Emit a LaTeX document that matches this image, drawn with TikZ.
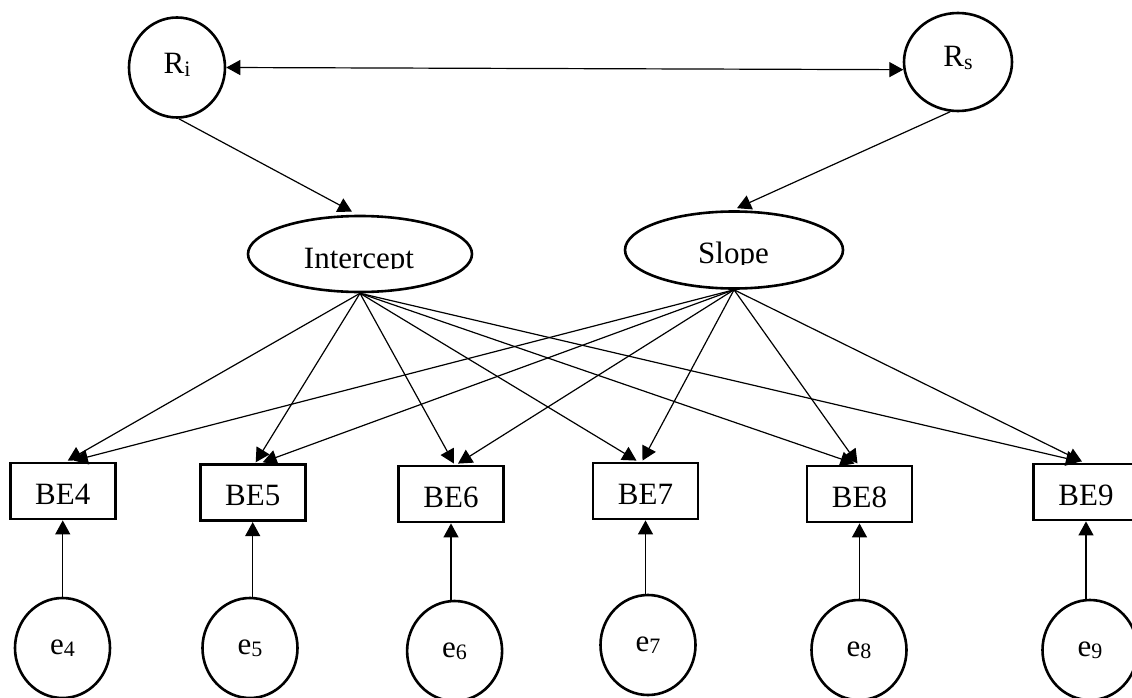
\documentclass[tikz,border=0pt]{standalone}
\usepackage{fontspec}
\setmainfont{Liberation Serif}
\usetikzlibrary{shapes.geometric,arrows.meta}
% lowered, smaller index set after a letter
\newcommand{\lowsub}[1]{\raisebox{-2.5pt}{\fontsize{22}{22}\selectfont #1}}
\begin{document}
\begin{tikzpicture}[x=1pt,y=-1pt,
  >={Triangle[length=14pt,width=15pt]},
  every node/.style={font=\fontsize{31}{36}\selectfont, inner sep=0pt},
  latent/.style={ellipse, draw, line width=2.6pt},
  obs/.style={rectangle, draw, line width=2.8pt, minimum width=105pt,
              minimum height=56pt, text height=26pt, text depth=0pt},
  errc/.style={latent, minimum width=95pt, minimum height=100pt,
               text height=12pt, text depth=0pt},
  path/.style={line width=1.2pt, ->},
]
\clip (0,0) rectangle (1132,698);
\fill[white] (0,0) rectangle (1132,698);

% random effects
\node[latent, minimum width=96pt, minimum height=100pt,
      text height=13pt, text depth=0pt] (Ri) at (177,67.5) {R\lowsub{i}};
\node[latent, minimum width=108pt, minimum height=98pt,
      text height=10pt, text depth=0pt] (Rs) at (958,62) {R\lowsub{s}};

% growth factors
\node[latent, minimum width=224pt, minimum height=76pt] (icpt) at (360,254) {};
\node[latent, minimum width=218pt, minimum height=77pt] (slope) at (734,250) {};
\begin{scope}
  \clip (250,225) rectangle (470,268.5);
  \node[anchor=base] (icpt-t) at (359,268) {Intercept};
\end{scope}
\begin{scope}
  \clip (625,222) rectangle (845,264);
  \node[anchor=base] (slope-t) at (733.5,263) {Slope};
\end{scope}

% observed indicators
\node[obs] (BE4) at (62.75,491) {BE4};
\node[obs] (BE5) at (252.7,492.7) {BE5};
\node[obs] (BE6) at (451,494) {BE6};
\node[obs] (BE7) at (645.5,491) {BE7};
\node[obs] (BE8) at (859.5,494) {BE8};
\node[obs] (BE9) at (1086,492) {BE9};

% residuals
\node[errc] (e4) at (62.5,648) {e\lowsub{4}};
\node[errc] (e5) at (250,648) {e\lowsub{5}};
\node[errc] (e6) at (454.6,651) {e\lowsub{6}};
\node[errc] (e7) at (648,645) {e\lowsub{7}};
\node[errc] (e8) at (859,650) {e\lowsub{8}};
\node[errc] (e9) at (1090,650) {e\lowsub{9}};

% covariance
\draw[line width=1.2pt, <->] (Ri.east) -- (Rs.188);

% random effects to growth factors
\draw[path] (Ri.272) -- ([shift={(-8,-3)}]icpt.north);
\draw[path] (Rs.261) -- ([shift={(3,-2)}]slope.north);

% factor loadings
\foreach \b/\dx in {BE4/5, BE5/3, BE6/3, BE7/-9, BE8/-5, BE9/-6}
  \draw[path] (icpt.south) -- ([shift={(\dx,-1)}]\b.north);
\foreach \b/\dx in {BE4/11, BE5/10, BE6/7, BE7/-3, BE8/-2, BE9/-4}
  \draw[path] (slope.south) -- ([shift={(\dx,-1)}]\b.north);

% residual paths
\foreach \i in {4,...,9}
  \draw[path] (BE\i.south |- e\i.north) -- (BE\i.south);
\end{tikzpicture}
\end{document}
